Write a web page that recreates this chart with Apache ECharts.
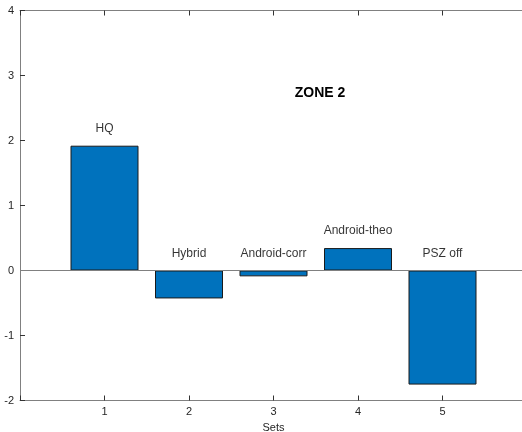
<!DOCTYPE html>
<html><head><meta charset="utf-8">
<script src="https://cdn.jsdelivr.net/npm/echarts@6/dist/echarts.min.js"></script>
<style>html,body{margin:0;padding:0;background:#fff}#c{width:522px;height:432px}</style>
</head><body><div id="c"></div>
<script>
var setIdx = [1, 2, 3, 4, 5];
var setNames = ['HQ', 'Hybrid', 'Android-corr', 'Android-theo', 'PSZ off'];
var values = [1.92, -0.43, -0.09, 0.345, -1.755];
var yTicks = [-2, -1, 0, 1, 2, 3, 4];
var titleText = 'ZONE 2';
var xName = 'Sets';

var font = 'Liberation Sans, Arial, Helvetica, sans-serif';
var axisCol = '#808080';
var tickCol = '#333333';
var txtCol = '#262626';
var chart = echarts.init(document.getElementById('c'));
var barData = setIdx.map(function (x, i) { return [x, values[i]]; });
var labelData = setIdx.map(function (x, i) { return { value: [x, Math.max(values[i], 0)], name: setNames[i] }; });

function axLine() { return { show: true, onZero: false, lineStyle: { color: axisCol, width: 1 } }; }
function axTick() { return { show: true, inside: true, length: 5, lineStyle: { color: tickCol } }; }

chart.setOption({
  animation: false,
  backgroundColor: '#fff',
  title: {
    text: titleText, left: 315, top: 81, textAlign: 'center',
    textStyle: { fontFamily: font, fontSize: 14, fontWeight: 'bold', color: '#000' }
  },
  grid: { left: 20, top: 10.5, width: 507, height: 390, containLabel: false, outerBoundsMode: 'none' },
  xAxis: [{
    type: 'value', min: 0, max: 6, interval: 1,
    name: xName, nameLocation: 'middle', nameGap: 16,
    nameTextStyle: { fontFamily: font, fontSize: 11, color: txtCol },
    axisLine: axLine(), axisTick: axTick(),
    axisLabel: { fontFamily: font, fontSize: 11, color: txtCol, margin: 6,
      formatter: function (v) { return setIdx.indexOf(v) >= 0 ? String(v) : ''; } },
    splitLine: { show: false }
  }, {
    type: 'value', position: 'top', min: 0, max: 6, interval: 1,
    axisLine: axLine(), axisTick: axTick(),
    axisLabel: { show: false }, splitLine: { show: false }
  }],
  yAxis: [{
    type: 'value', min: yTicks[0], max: yTicks[yTicks.length - 1], interval: 1,
    axisLine: axLine(), axisTick: axTick(),
    axisLabel: { fontFamily: font, fontSize: 11, color: txtCol, margin: 6 },
    splitLine: { show: false }
  }, {
    type: 'value', position: 'right', min: yTicks[0], max: yTicks[yTicks.length - 1], interval: 1,
    axisLine: axLine(), axisTick: axTick(),
    axisLabel: { show: false }, splitLine: { show: false }
  }],
  series: [{
    type: 'bar', data: barData, barWidth: 68,
    itemStyle: { color: '#0072BD', borderColor: '#1a1a1a', borderWidth: 1 },
    markLine: {
      silent: true, symbol: 'none', label: { show: false },
      lineStyle: { color: axisCol, type: 'solid', width: 1 },
      data: [{ yAxis: 0 }]
    },
    z: 2
  }, {
    type: 'scatter', data: labelData, symbolSize: 0.001,
    label: { show: true, position: 'top', distance: 11,
      formatter: function (p) { return p.name; },
      fontFamily: font, fontSize: 12, color: '#000' },
    z: 3
  }]
});
</script></body></html>
